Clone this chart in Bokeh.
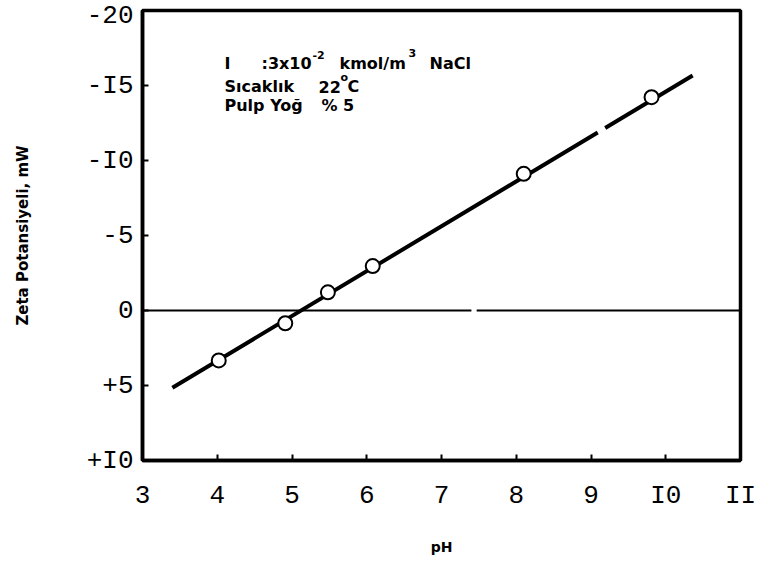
from bokeh.plotting import figure
from bokeh.models import Range1d, Label, FixedTicker
from bokeh.embed import file_html
from bokeh.resources import INLINE

nan = float("nan")

# measured points
ph = [4.02, 4.91, 5.48, 6.08, 8.10, 9.81]
zeta = [3.33, 0.85, -1.21, -2.96, -9.11, -14.22]

# fitted line (with the small gap seen in the print)
fit_ph = [3.40, 9.09, nan, 9.19, 10.36]
fit_zeta = [5.15, -11.87, nan, -12.17, -15.67]

# zero reference line
zero_ph = [3.0, 7.40, nan, 7.47, 11.0]
zero_zeta = [0.0, 0.0, nan, 0.0, 0.0]

x_ticks = [3, 4, 5, 6, 7, 8, 9, 10, 11]
x_tick_labels = ["3", "4", "5", "6", "7", "8", "9", "I0", "II"]
y_ticks = [-20, -15, -10, -5, 0, 5, 10]
y_tick_labels = ["-20", "-I5", "-I0", "-5", "0", "+5", "+I0"]

W, H = 763, 561
L, R, T, B = 142, 23, 10, 101

p = figure(width=W, height=H, output_backend="svg", toolbar_location=None,
           x_range=Range1d(3, 11), y_range=Range1d(10, -20),
           min_border_left=L, min_border_right=R, min_border_top=T, min_border_bottom=B)
p.background_fill_color = "white"
p.border_fill_color = "white"
p.xgrid.visible = False
p.ygrid.visible = False
p.outline_line_color = "black"
p.outline_line_width = 3.5

tick_font = "Liberation Mono"
for ax, ticks, labels in ((p.xaxis[0], x_ticks, x_tick_labels), (p.yaxis[0], y_ticks, y_tick_labels)):
    ax.ticker = FixedTicker(ticks=ticks)
    ax.major_label_overrides = {t: s for t, s in zip(ticks, labels)}
    ax.axis_line_width = 3.5
    ax.axis_line_color = "black"
    ax.major_tick_in = 6
    ax.major_tick_out = 0
    ax.major_tick_line_width = 2
    ax.minor_tick_line_color = None
    ax.major_label_text_font = tick_font
    ax.major_label_text_font_size = "26px"
    ax.major_label_text_color = "black"
    ax.axis_label_text_font = "DejaVu Sans"
    ax.axis_label_text_font_style = "bold"
    ax.axis_label_text_color = "black"

p.xaxis.axis_label = "pH"
p.xaxis.axis_label_text_font_size = "14px"
p.xaxis.major_label_standoff = 20
p.xaxis.axis_label_standoff = 25

p.yaxis.axis_label = "Zeta Potansiyeli, mW"
p.yaxis.axis_label_text_font_size = "15px"
p.yaxis.major_label_standoff = 9
p.yaxis.axis_label_standoff = 52

p.line(zero_ph, zero_zeta, line_color="black", line_width=2)
p.line(fit_ph, fit_zeta, line_color="black", line_width=4)
p.scatter(ph, zeta, size=14, marker="circle", fill_color="white",
          line_color="black", line_width=2)

# pixel -> data helpers for annotation placement inside the frame
fw, fh = W - L - R, H - T - B
def dx(px):
    return 3 + (px - L) * 8.0 / fw
def dy(py):
    return -20 + (py - T) * 30.0 / fh

pieces = [
    ("I", 224, 63, 16),
    (":3x10", 261, 63, 16),
    ("-2", 312, 54, 11),
    ("kmol/m", 339, 63, 16),
    ("3", 408, 52, 11),
    ("NaCl", 429, 63, 16),
    ("Sıcaklık", 224, 86, 16),
    ("22", 318, 86, 16),
    ("o", 340, 77, 11),
    ("C", 347, 86, 16),
    ("Pulp Yoğ", 224, 105, 16),
    ("% 5", 321, 105, 16),
]
for txt, px, py, fs in pieces:
    p.add_layout(Label(x=dx(px), y=dy(py), text=txt, text_font="DejaVu Sans",
                       text_font_style="bold", text_font_size=f"{fs}px",
                       text_baseline="middle", text_align="left", text_color="black"))

open("out.html", "w").write(file_html(p, INLINE))
